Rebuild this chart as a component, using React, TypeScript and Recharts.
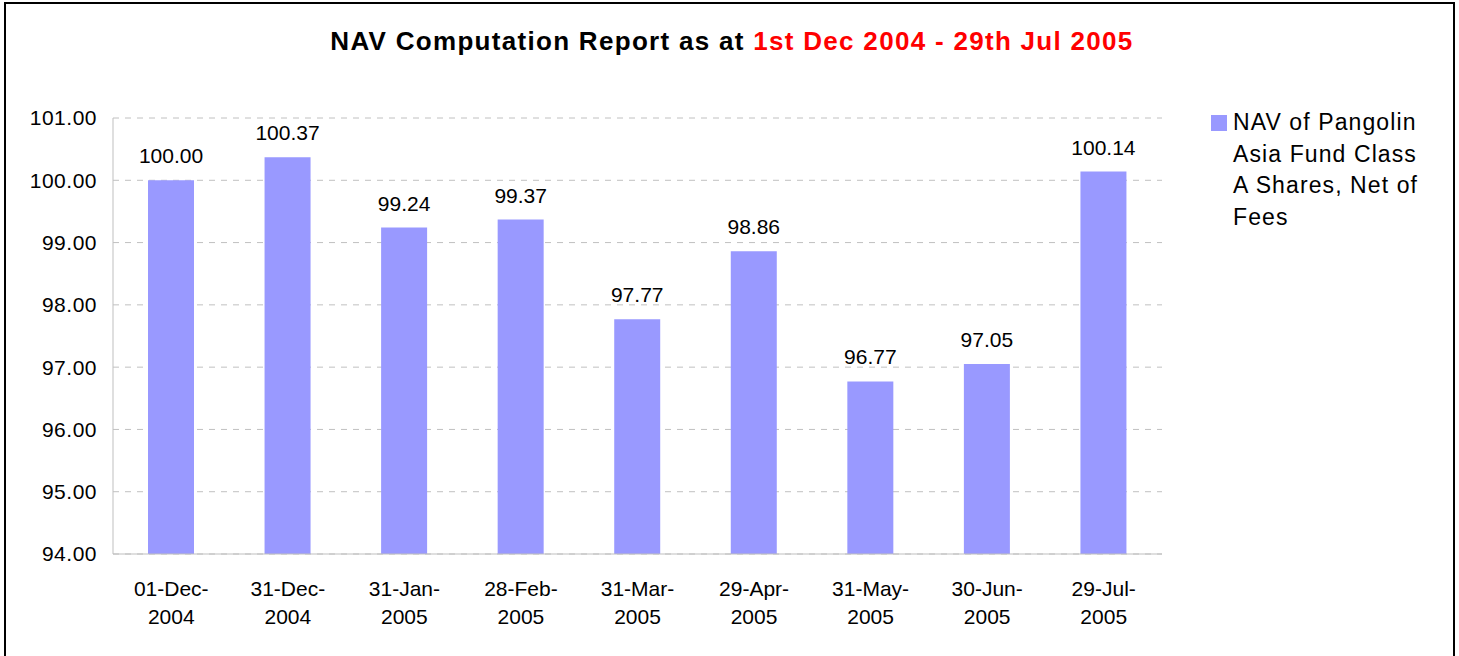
import React from "react";
import { BarChart, Bar, XAxis, YAxis, CartesianGrid, LabelList } from "recharts";

const categories = ["01-Dec-2004", "31-Dec-2004", "31-Jan-2005", "28-Feb-2005", "31-Mar-2005", "29-Apr-2005", "31-May-2005", "30-Jun-2005", "29-Jul-2005"];
const navValues = [100.0, 100.37, 99.24, 99.37, 97.77, 98.86, 96.77, 97.05, 100.14];
const yTicks = [94, 95, 96, 97, 98, 99, 100, 101];
const seriesName = "NAV of Pangolin Asia Fund Class A Shares, Net of Fees";

const data = categories.map((c, i) => ({ date: c, nav: navValues[i] }));

const FONT = "'Liberation Sans', Arial, sans-serif";

const XTick = (props: any) => {
  const { x, y, payload } = props;
  const s: string = payload.value;
  const idx = s.lastIndexOf("-");
  const l1 = s.slice(0, idx + 1);
  const l2 = s.slice(idx + 1);
  return (
    <text x={x} y={y} textAnchor="middle" fill="#000" fontSize={21} fontFamily={FONT}>
      <tspan x={x} dy={34}>{l1}</tspan>
      <tspan x={x} dy={28}>{l2}</tspan>
    </text>
  );
};

export default function App() {
  return (
    <div style={{ position: "fixed", left: 0, top: 0, width: 1459, height: 656, background: "#fff", overflow: "hidden" }}>
      <div style={{ position: "absolute", left: 4, top: 2, width: 1447, height: 700, border: "2px solid #000" }} />
      <div style={{ position: "absolute", left: 0, top: 26, width: 1464, textAlign: "center", fontFamily: FONT, fontSize: 26, letterSpacing: 1.3, fontWeight: "bold", color: "#000" }}>
        NAV Computation Report as at <span style={{ color: "#FF0000" }}>1st Dec 2004 - 29th Jul 2005</span>
      </div>
      <div style={{ position: "absolute", left: 0, top: 0 }}>
        <BarChart width={1459} height={656} data={data} margin={{ top: 118, right: 297, bottom: 0, left: 0 }}>
          <CartesianGrid horizontal={true} vertical={false} stroke="#c0c0c0" strokeDasharray="6 6" />
          <XAxis dataKey="date" tick={<XTick />} tickLine={false} axisLine={{ stroke: "#bfbfbf" }} interval={0} height={102} />
          <YAxis
            domain={[94, 101]}
            ticks={yTicks}
            width={113}
            tickLine={false}
            axisLine={{ stroke: "#bfbfbf" }}
            tickSize={8}
            tickMargin={8}
            tickFormatter={(v: number) => v.toFixed(2)}
            tick={{ fill: "#000", fontSize: 21, fontFamily: FONT, letterSpacing: 0.5 }}
            allowDataOverflow
          />
          <Bar dataKey="nav" name={seriesName} fill="#9999FF" barSize={46} isAnimationActive={false}>
            <LabelList
              dataKey="nav"
              position="top"
              offset={17}
              formatter={(v: any) => Number(v).toFixed(2)}
              style={{ fill: "#000", fontSize: 21, fontFamily: FONT }}
            />
          </Bar>
        </BarChart>
      </div>
      <div style={{ position: "absolute", left: 1211, top: 107, display: "flex", alignItems: "flex-start", fontFamily: FONT, fontSize: 23, letterSpacing: 1.1, lineHeight: "31.7px", color: "#000" }}>
        <div style={{ width: 16, height: 16, background: "#9999FF", marginTop: 8, marginRight: 6, flexShrink: 0 }} />
        <div style={{ width: 205 }}>{seriesName}</div>
      </div>
    </div>
  );
}
